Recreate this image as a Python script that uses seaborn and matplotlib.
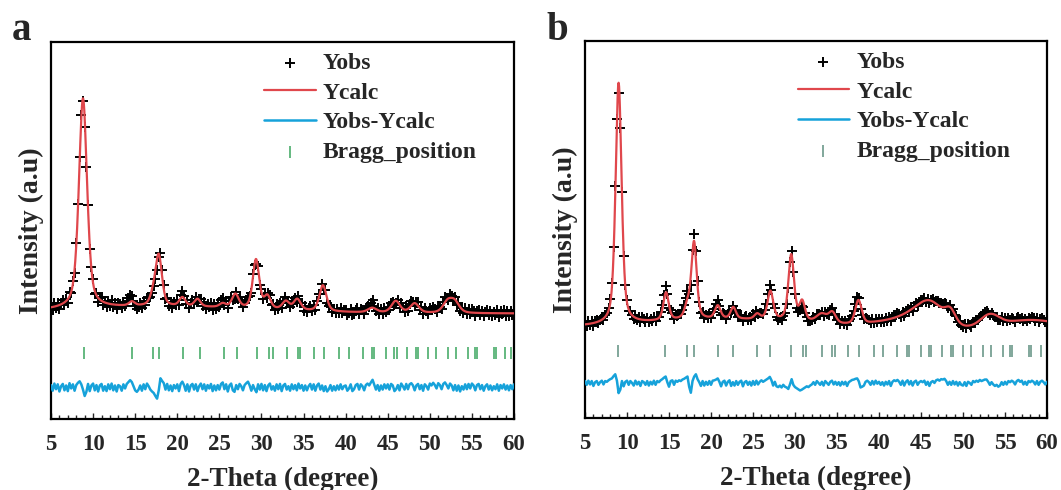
import numpy as np
import pandas as pd
import matplotlib
matplotlib.use("Agg")
import matplotlib.pyplot as plt
import seaborn as sns
from matplotlib.font_manager import FontProperties
from matplotlib.ticker import MultipleLocator

# ---------------- sample a ----------------
# refined pseudo-Voigt peaks: position (2θ, deg), height, FWHM, Lorentzian fraction
a_center = [8.80, 14.60, 17.15, 17.80, 20.60, 22.40, 25.40, 26.90, 29.35, 30.70,
            32.90, 34.25, 37.30, 43.15, 45.95, 48.20, 52.10, 52.95, 18.00]
a_height = [55.7, 1.1, 2.5, 13.2, 2.3, 2.0, 1.0, 3.6, 13.0, 3.3,
            2.2, 2.9, 6.9, 1.2, 3.1, 2.5, 2.8, 2.8, 1.8]
a_fwhm = [1.15, 0.80, 0.90, 0.90, 0.85, 0.85, 0.90, 0.95, 0.90, 0.90,
          1.00, 1.00, 1.00, 1.20, 1.20, 1.20, 1.30, 1.30, 28.0]
a_mix = [0.50, 0.45, 0.45, 0.45, 0.45, 0.45, 0.45, 0.45, 0.45, 0.45,
         0.45, 0.45, 0.45, 0.45, 0.45, 0.45, 0.45, 0.45, 0.0]
a_background = 28.0

# observed minus calculated, every 0.2 deg from 5 to 60
a_resid = [
    0.6, -0.9, 1.0, -0.5, 0.8, -1.1, 0.3, 0.9, -0.8, 0.5, -1.0, 1.1, -0.3, 0.8, -0.9, 0.6, 1.2, 1.6, 0.8, -0.6, -2.3, -1.2, 0.9, -1.0, 0.5,
    1.0, -0.8, 0.6, -1.1, 0.5, 0.9, -0.9, 0.3, -1.0, 0.8, -0.5, 1.0, -0.8, 0.5, -1.1, 0.6, 0.3, -0.9, 0.8, -0.3, 0.9, 1.4, 1.9, 1.4, 0.3,
    -0.8, -1.2, -0.6, 0.5, -0.9, 0.8, -0.5, 1.0, 0.3, -0.6, -1.1, -1.5, -2.3, -3.0, -0.8, 2.4, 1.7, 1.1, -0.6, 0.9, -0.8, 0.5, -1.0, 0.6, -0.3,
    0.8, -1.0, 0.9, 1.5, 0.6, -0.9, 0.8, -1.1, 0.5, 0.9, -0.6, 0.8, -1.0, 0.3, 1.0, -0.5, 0.8, -0.9, 0.6, -0.3, 0.9, -1.0, 0.5, -0.8, 0.6,
    -0.6, 0.9, 1.3, -0.5, 0.8, -1.1, 0.5, 1.0, -0.8, -1.2, 0.6, -0.5, 0.9, 0.3, -0.8, 0.6, 1.1, 1.5, 0.5, -0.9, 0.6, -0.5, -1.3, 0.8, -0.6,
    0.9, -0.8, 0.6, -1.0, 0.5, 1.0, -0.6, 0.3, -0.9, 0.8, -0.5, 0.9, -1.0, 0.5, 0.9, -0.6, 0.3, -0.9, 0.8, -0.5, 0.6, -0.8, 1.0, -0.3, 0.6,
    -0.9, 0.5, -0.8, 0.3, 0.9, -0.6, 0.8, -0.9, 0.5, 1.0, -0.6, 0.5, -1.0, 0.3, -1.1, -0.5, 0.6, -0.9, 0.3, -0.8, 0.5, -0.6, 0.8, -0.5, 0.3,
    0.5, -0.9, -0.3, 0.8, -1.0, -0.5, 0.6, 0.9, -0.6, 0.8, 0.3, -0.8, 0.6, 1.0, 0.5, 1.3, 2.0, 0.7, -0.6, 0.6, -0.9, 0.5, -0.6, 0.8, -0.3,
    0.8, -0.6, 0.9, 0.5, -1.0, -0.5, 0.6, -0.8, 1.0, 0.3, -0.6, 0.9, -0.5, 0.8, 1.1, 0.5, -0.8, 0.5, 0.9, -0.5, 0.6, -0.9, 0.8, 0.3, -0.6,
    1.0, 0.5, 1.2, 0.6, -0.3, 1.1, 0.6, -0.5, 0.9, 1.3, 0.6, -0.3, 1.0, 0.5, -0.8, 0.6, -0.9, 0.5, -1.1, 0.3, -0.6, 0.8, -0.5, 0.9, -0.3,
    1.0, 0.5, -0.8, 0.6, 0.9, -0.5, 0.6, -0.9, 0.3, 0.8, -0.6, 0.5, -0.8, 0.3, -0.5, 0.8, -0.9, 0.6, -0.3, 0.8, -0.6, 0.5, -0.8, 0.6, -0.5,
    0.8,
]

a_bragg = [8.96, 14.62, 17.15, 17.83, 20.72, 22.70, 25.51, 27.05, 29.50, 30.85,
           31.33, 33.07, 34.30, 34.61, 36.24, 37.46, 39.24, 40.43, 42.09, 43.16,
           43.40, 44.79, 45.74, 46.09, 47.32, 48.35, 48.55, 49.81, 50.76, 52.19,
           53.10, 54.56, 55.40, 55.63, 57.61, 57.81, 58.88, 59.63]

# ---------------- sample b ----------------
b_center = [9.00, 14.65, 17.20, 17.98, 20.80, 22.65, 25.50, 27.07, 29.55, 30.85,
            33.20, 34.45, 37.55, 41.00, 44.00, 46.20, 48.50, 53.20, 58.00, 22.00]
b_height = [64.0, 7.4, 3.4, 20.4, 3.5, 3.1, 1.4, 7.6, 17.5, 5.1,
            2.3, 2.8, 6.3, 1.2, 2.5, 5.8, 3.5, 2.9, 2.1, 2.2]
b_fwhm = [0.85, 0.75, 0.80, 0.75, 0.80, 0.75, 0.80, 0.80, 0.80, 0.80,
          1.50, 1.00, 0.90, 5.00, 4.00, 3.50, 1.50, 2.50, 8.00, 24.0]
b_mix = [0.50, 0.50, 0.50, 0.50, 0.50, 0.50, 0.50, 0.50, 0.50, 0.50,
         0.30, 0.40, 0.40, 0.0, 0.0, 0.0, 0.30, 0.0, 0.0, 0.0]
b_background = 23.9

b_resid = [
    0.6, -0.4, 0.7, -0.3, 0.6, -0.7, 0.3, 0.6, -0.4, 0.3, 0.7, -0.3, 0.6, 0.4, 0.8, 1.1, 1.3, 1.9, 2.4, 0.7, -2.6, -1.7, 0.6, -0.8, 0.4,
    0.7, -0.4, 0.6, 0.1, -0.6, 0.7, -0.3, 0.4, -0.7, 0.6, 0.3, -0.4, 0.6, -0.6, 0.4, -0.3, 0.7, -0.4, 0.6, 0.3, 0.8, 1.1, 1.5, 1.8, 0.3,
    -0.9, 0.6, 0.8, -0.4, 0.7, 0.4, 0.8, 0.6, 1.0, 1.2, 1.5, 1.8, -0.9, -2.5, 0.6, 1.8, 2.4, 1.1, 0.3, -0.7, 0.6, -0.6, 0.4, -0.4, 0.6,
    -0.4, 0.7, 0.8, 1.0, 1.3, 0.4, -0.8, 0.4, 0.7, -0.6, 0.4, 0.8, -0.7, 0.3, -0.6, 0.6, -0.4, 0.4, 0.7, -0.8, 0.3, 0.6, -0.4, 0.4, -0.6,
    0.6, -0.4, 0.7, -0.3, 0.4, 0.8, 0.4, 0.7, 1.0, 1.3, 1.7, 0.8, -0.6, 0.4, -0.8, -1.0, -0.6, -1.1, -0.4, -0.9, -1.1, -1.5, -0.3, 1.1, -0.4,
    -1.0, -1.3, -1.6, -1.9, -1.7, -1.4, -1.1, -0.8, -1.0, -0.6, -0.3, 0.3, -0.4, 0.6, 0.1, -0.4, 0.4, -0.6, 0.6, 0.1, -0.4, 0.4, 0.7, -0.3, 0.4,
    -0.4, 0.3, -0.6, 0.4, -0.3, 0.4, -0.7, 0.3, 0.6, 0.9, 1.0, 1.2, 1.3, 0.5, -1.1, -0.9, -0.6, 0.4, 0.7, 0.3, -0.4, 0.6, -0.3, 0.7, -0.1,
    0.4, -0.4, 0.3, -0.6, 0.4, -0.3, 0.6, -0.7, 0.4, 0.8, 0.6, 0.9, 0.4, -0.4, 0.7, -0.6, 0.4, 0.8, -0.3, 0.6, -0.6, 0.4, 0.7, -0.4, 0.3,
    0.6, 0.3, 0.7, -0.4, 0.4, -0.7, 0.3, 0.6, 0.1, 0.8, 1.0, 0.7, 1.1, 1.0, 1.2, 0.6, -0.4, 0.4, -0.4, 0.6, -0.3, 0.4, -0.6, 0.3, -0.4,
    -0.6, 0.3, -0.7, 0.4, 0.1, -0.4, 0.6, 0.3, 0.7, 0.4, 0.9, 0.6, 0.8, 1.0, 1.0, 0.4, -0.4, 0.3, -0.3, -0.7, -0.4, -0.9, -0.6, 0.3, -0.4,
    0.4, -0.3, 0.6, 0.3, 0.7, 0.4, -0.3, 0.6, 0.9, 0.4, 0.7, -0.3, 0.4, -0.4, 0.6, 0.3, 0.7, 0.4, -0.3, 0.6, -0.4, 0.4, 0.7, 0.3, -0.3,
    0.4,
]

b_bragg = [8.97, 14.56, 17.18, 18.02, 20.79, 22.66, 25.48, 27.06, 29.48, 30.99,
           31.31, 33.17, 34.44, 34.76, 36.35, 37.58, 39.40, 40.52, 42.18, 43.37,
           43.61, 44.96, 45.95, 46.19, 47.46, 48.53, 48.77, 50.04, 50.91, 52.42,
           53.29, 54.72, 55.60, 55.83, 57.82, 58.13, 59.25]

panel_tags = ["a", "b"]
x_ticks = [5, 10, 15, 20, 25, 30, 35, 40, 45, 50, 55, 60]
series_names = ["Yobs", "Ycalc", "Yobs-Ycalc", "Bragg_position"]
x_label = "2-Theta (degree)"
y_label = "Intensity (a.u)"

# ---------------- styling ----------------
SERIF = "Liberation Serif"
RED = "#e0474c"
BLUE = "#16a2da"
panels = [
    dict(center=a_center, height=a_height, fwhm=a_fwhm, mix=a_mix, bg=a_background,
         resid=a_resid, bragg=a_bragg, diff_shift=8.4, bragg_level=17.6,
         bragg_color="#3aa65e", rect=[51 / 1061, 71 / 490, 463 / 1061, 377 / 490]),
    dict(center=b_center, height=b_height, fwhm=b_fwhm, mix=b_mix, bg=b_background,
         resid=b_resid, bragg=b_bragg, diff_shift=9.2, bragg_level=17.9,
         bragg_color="#5f8f80", rect=[585 / 1061, 72 / 490, 462 / 1061, 377 / 490]),
]


def pseudo_voigt(x, center, height, fwhm, mix, bg):
    y = np.full_like(x, bg, dtype=float)
    for c, h, w, m in zip(center, height, fwhm, mix):
        u = (x - c) / w
        gauss = np.exp(-4 * np.log(2) * u ** 2)
        lorentz = 1.0 / (1.0 + 4 * u ** 2)
        y += h * (m * lorentz + (1 - m) * gauss)
    return y


sns.set_style("white")
plt.rcParams["font.family"] = [SERIF, "DejaVu Serif"]
plt.rcParams["font.weight"] = "bold"

fig = plt.figure(figsize=(10.61, 4.90), dpi=100)

for tag, p in zip(panel_tags, panels):
    ax = fig.add_axes(p["rect"])

    x_fine = np.linspace(5, 60, 2751)
    y_calc = pseudo_voigt(x_fine, p["center"], p["height"], p["fwhm"], p["mix"], p["bg"])

    x_obs = np.linspace(5, 60, len(p["resid"]))
    resid = np.asarray(p["resid"], dtype=float)
    y_obs = pseudo_voigt(x_obs, p["center"], p["height"], p["fwhm"], p["mix"], p["bg"]) + resid

    sns.scatterplot(x=x_obs, y=y_obs, marker="+", s=48, color="black",
                    linewidth=1.4, ax=ax, label=series_names[0], zorder=2)
    sns.lineplot(x=x_fine, y=y_calc, color=RED, linewidth=1.6, ax=ax,
                 label=series_names[1], estimator=None, sort=False, zorder=3)
    sns.lineplot(x=x_obs, y=resid + p["diff_shift"], color=BLUE, linewidth=1.8, ax=ax,
                 label=series_names[2], estimator=None, sort=False, zorder=3)
    sns.scatterplot(x=p["bragg"], y=np.full(len(p["bragg"]), p["bragg_level"]),
                    marker="|", s=70, color=p["bragg_color"], linewidth=1.1,
                    ax=ax, label=series_names[3], zorder=2)

    ax.set_xlim(5, 60)
    ax.set_ylim(0, 100)
    ax.set_xticks(x_ticks)
    ax.xaxis.set_minor_locator(MultipleLocator(1))
    ax.set_yticks([])
    ax.tick_params(axis="x", which="major", direction="in", length=4, width=1.0,
                   labelsize=16.5, pad=11, bottom=True, top=False)
    ax.tick_params(axis="x", which="minor", direction="in", length=3, width=1.0,
                   bottom=True, top=False)
    for lab in ax.get_xticklabels():
        lab.set_fontweight("bold")
    for side in ["left", "right", "top", "bottom"]:
        ax.spines[side].set_visible(True)
        ax.spines[side].set_linewidth(1.6)
        ax.spines[side].set_color("black")

    ax.set_xlabel(x_label, fontsize=19.5, fontweight="bold", labelpad=8)
    ax.set_ylabel(y_label, fontsize=20, fontweight="bold", labelpad=5)

    handles, labels = ax.get_legend_handles_labels()
    order = [labels.index(n) for n in series_names]
    ax.legend([handles[i] for i in order], [labels[i] for i in order],
              loc="upper left", bbox_to_anchor=(0.46, 0.972), frameon=False,
              prop=FontProperties(family=SERIF, weight="bold", size=17),
              handlelength=2.2, handletextpad=0.3, labelspacing=0.34,
              borderpad=0, borderaxespad=0, scatterpoints=1)

    fig.text(p["rect"][0] - 39 / 1061, 1 - 40 / 490, tag, fontsize=28,
             fontweight="bold", ha="left", va="baseline")

fig.savefig("out.png", dpi=100)
